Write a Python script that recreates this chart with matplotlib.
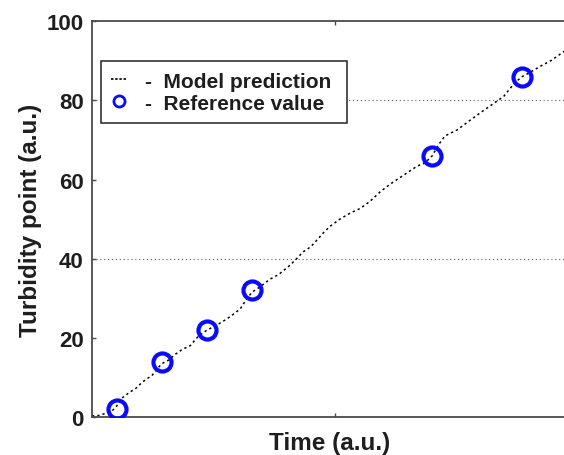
"""Turbidity point over time: model prediction vs reference values."""

import matplotlib

matplotlib.use("Agg")
import matplotlib.pyplot as plt
from matplotlib.lines import Line2D

plt.rcParams["font.family"] = ["Liberation Sans", "DejaVu Sans"]
plt.rcParams["font.weight"] = "bold"

# model prediction trace
model_t = [0.00, 0.16, 0.29, 0.42, 0.51, 0.62, 0.78, 0.90, 1.01, 1.12, 1.23,
           1.33, 1.44, 1.58, 1.71, 1.86, 2.02, 2.18, 2.37, 2.52, 2.70, 2.86,
           3.05, 3.17, 3.29, 3.47, 3.66, 3.84, 4.03, 4.18, 4.34, 4.50, 4.65,
           4.78, 4.90, 5.10, 5.31, 5.52, 5.72, 5.93, 6.13, 6.40, 6.69, 6.85,
           7.00, 7.13, 7.26, 7.52, 7.78, 8.05, 8.33, 8.47, 8.60, 8.72, 8.85,
           9.03, 9.22, 9.45, 9.69, 9.94]
model_y = [0.3, 0.4, 1.0, 1.6, 2.8, 4.8, 6.3, 7.2, 8.5, 9.6, 10.4,
           12.0, 13.5, 14.4, 15.8, 17.1, 18.0, 20.3, 22.0, 22.9, 24.2, 25.5,
           27.3, 29.6, 31.5, 33.0, 34.8, 36.0, 37.9, 39.6, 41.7, 43.0, 45.0,
           46.8, 48.2, 50.0, 51.5, 52.7, 54.5, 56.9, 58.8, 61.0, 63.4, 64.2,
           66.0, 68.8, 71.0, 72.6, 75.0, 77.4, 79.8, 81.0, 83.0, 84.7, 86.0,
           87.2, 88.6, 90.1, 92.2, 94.0]

# reference measurements
ref_t = [0.51, 1.44, 2.37, 3.29, 7.00, 8.85]
ref_y = [2, 14, 22, 32, 66, 86]

TEXT = "#1e1e1e"
SPINE = "#4a4a4a"

fig = plt.figure(figsize=(5.64, 4.56), dpi=100)
# the axes run past the right edge of the figure, as in the cropped original
ax = fig.add_axes([0.163, 0.0833, 0.862, 0.868])

for level in (40, 80):
    ax.axhline(level, color="#555555", linestyle=(0, (1, 2.5)), linewidth=0.8, zorder=1)

ax.plot(model_t, model_y, color="black", linestyle=(0, (1.5, 2)), linewidth=1.1, zorder=2)
ax.plot(ref_t, ref_y, linestyle="none", marker="o", markersize=13,
        markerfacecolor="none", markeredgecolor="#0a0aff", markeredgewidth=3, zorder=3)

ax.set_xlim(0, 10)
ax.set_ylim(0, 100)
ax.set_xticks([5])
ax.set_xticklabels([])
ax.set_yticks([0, 20, 40, 60, 80, 100])
ax.tick_params(direction="in", top=True, right=True, length=3, width=1,
               color=SPINE, labelsize=16, labelcolor=TEXT, pad=6)
for spine in ax.spines.values():
    spine.set_color(SPINE)
    spine.set_linewidth(1.3)
ax.spines["right"].set_visible(False)

ax.set_xlabel("Time (a.u.)", fontsize=17.5, fontweight="bold", color=TEXT)
ax.xaxis.set_label_coords(0.488, -0.036)
ax.set_ylabel("Turbidity point (a.u.)", fontsize=17.5, fontweight="bold", color=TEXT, labelpad=3)

handles = [
    Line2D([], [], color="black", linestyle=(0, (1.5, 1)), linewidth=1.2),
    Line2D([], [], linestyle="none", marker="o", markersize=8, markerfacecolor="none",
           markeredgecolor="#0a0aff", markeredgewidth=2),
]
leg = ax.legend(handles, ["-  Model prediction ", "-  Reference value"],
                loc="upper left", bbox_to_anchor=(0.0185, 0.899), borderaxespad=0,
                fancybox=False, framealpha=1, edgecolor="#222222",
                prop={"size": 15, "weight": "bold"}, handlelength=0.7,
                handletextpad=0.9, labelspacing=0.15, borderpad=0.5)
leg.get_frame().set_linewidth(1.1)
for t in leg.get_texts():
    t.set_color(TEXT)

fig.savefig("out.png", dpi=100)
